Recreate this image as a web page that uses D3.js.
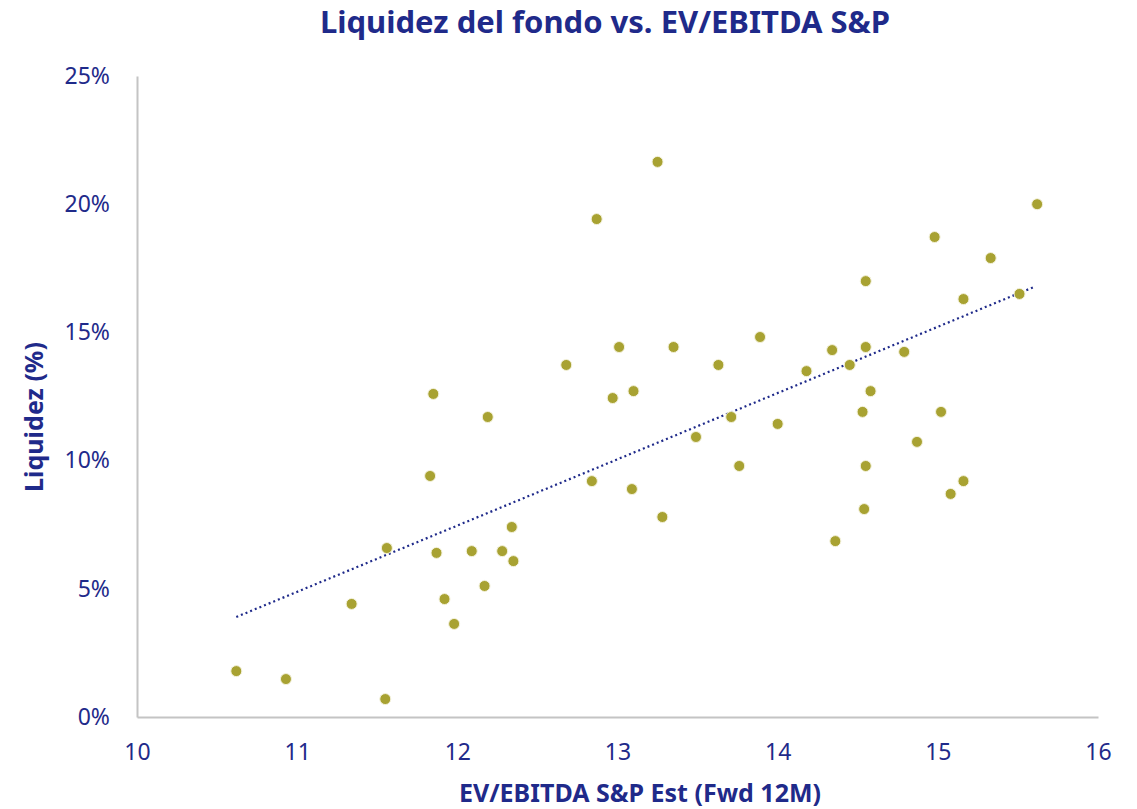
<!DOCTYPE html>
<html>
<head>
<meta charset="utf-8">
<script src="https://cdn.jsdelivr.net/npm/d3@7"></script>
<style>
  body { margin: 0; background: #fff; }
  text { font-family: "Noto Sans", "Open Sans", sans-serif; }
</style>
</head>
<body>
<div class="chart"></div>
<script>
var svgWidth = 1137;
var svgHeight = 809;

var margin = { top: 76, right: 39, bottom: 92, left: 137 };
var width = svgWidth - margin.left - margin.right;
var height = svgHeight - margin.top - margin.bottom;

// EV/EBITDA values (x) and fund liquidity in % (y)
var evEbitda = [10.62, 10.93, 11.55, 11.34, 11.56, 11.83, 11.85, 11.87, 11.92, 11.98,
  12.09, 12.17, 12.19, 12.28, 12.34, 12.35, 12.68, 12.84, 12.87, 12.97,
  13.01, 13.09, 13.10, 13.25, 13.28, 13.35, 13.49, 13.63, 13.71, 13.76,
  13.89, 14.00, 14.18, 14.34, 14.36, 14.45, 14.53, 14.54, 14.55, 14.55,
  14.55, 14.58, 14.79, 14.87, 14.98, 15.02, 15.08, 15.16, 15.16, 15.33,
  15.51, 15.62];
var liquidez = [1.79, 1.48, 0.70, 4.41, 6.59, 9.40, 12.60, 6.40, 4.60, 3.63,
  6.47, 5.11, 11.70, 6.47, 7.41, 6.08, 13.73, 9.20, 19.42, 12.44,
  14.43, 8.89, 12.71, 21.65, 7.80, 14.43, 10.92, 13.73, 11.70, 9.79,
  14.82, 11.43, 13.49, 14.31, 6.86, 13.73, 11.90, 8.11, 9.79, 14.43,
  17.00, 12.71, 14.24, 10.73, 18.72, 11.90, 8.70, 9.20, 16.30, 17.90,
  16.50, 20.00];

// linear trend line as shown in the chart (start / end)
var trendX = [10.62, 15.6];
var trendY = [3.9, 16.77];

var xTicks = [10, 11, 12, 13, 14, 15, 16];
var yTicks = [0, 5, 10, 15, 20, 25];

var navy = "#1f2a8a";
var olive = "#a8a232";

var data = evEbitda.map(function(x, i) { return { x: x, y: liquidez[i] }; });

var svg = d3.select(".chart")
  .append("svg")
  .attr("width", svgWidth)
  .attr("height", svgHeight);

var chartGroup = svg.append("g")
  .attr("transform", `translate(${margin.left}, ${margin.top})`);

var xScale = d3.scaleLinear().domain([10, 16]).range([0, width]);
var yScale = d3.scaleLinear().domain([0, 25]).range([height, 0]);

// axes: only a gray baseline, no tick marks
var xAxis = chartGroup.append("g")
  .attr("transform", `translate(0, ${height})`)
  .call(d3.axisBottom(xScale).tickValues(xTicks).tickSize(0).tickPadding(27)
    .tickFormat(d3.format("d")));

var yAxis = chartGroup.append("g")
  .call(d3.axisLeft(yScale).tickValues(yTicks).tickSize(0).tickPadding(27)
    .tickFormat(d => d + "%"));

[xAxis, yAxis].forEach(function(ax) {
  ax.select(".domain").attr("stroke", "#c4c4c4").attr("stroke-width", 2);
  ax.selectAll("text")
    .attr("fill", navy)
    .style("font-size", "23px");
});

// trend line
var trend = trendX.map(function(x, i) { return { x: x, y: trendY[i] }; });
chartGroup.append("path")
  .datum(trend)
  .attr("fill", "none")
  .attr("stroke", navy)
  .attr("stroke-width", 2.2)
  .attr("stroke-dasharray", "2,3")
  .attr("d", d3.line().x(d => xScale(d.x)).y(d => yScale(d.y)));

chartGroup.selectAll("circle")
  .data(data)
  .enter()
  .append("circle")
  .attr("cx", d => xScale(d.x))
  .attr("cy", d => yScale(d.y))
  .attr("r", 5.5)
  .attr("fill", olive)
  .attr("stroke", "#f4f2dc")
  .attr("stroke-width", 1);

// title
svg.append("text")
  .attr("x", 605)
  .attr("y", 33)
  .attr("text-anchor", "middle")
  .attr("fill", navy)
  .style("font-size", "31px")
  .style("font-weight", "bold")
  .text("Liquidez del fondo vs. EV/EBITDA S&P");

// axis titles
svg.append("text")
  .attr("x", 640)
  .attr("y", 802)
  .attr("text-anchor", "middle")
  .attr("fill", navy)
  .style("font-size", "25px")
  .style("font-weight", "bold")
  .text("EV/EBITDA S&P Est (Fwd 12M)");

svg.append("text")
  .attr("transform", "translate(43, 417) rotate(-90)")
  .attr("text-anchor", "middle")
  .attr("fill", navy)
  .style("font-size", "25px")
  .style("font-weight", "bold")
  .text("Liquidez (%)");
</script>
</body>
</html>
